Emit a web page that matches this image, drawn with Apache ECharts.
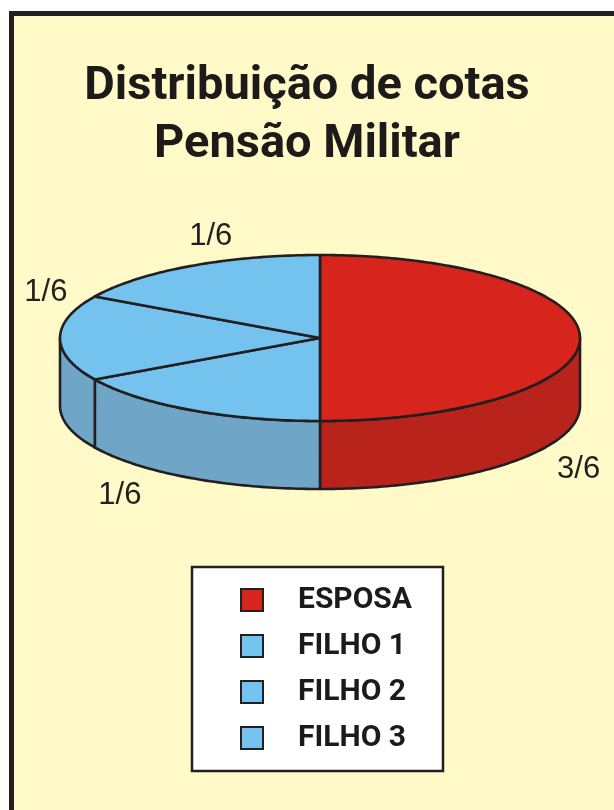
<!DOCTYPE html>
<html>
<head>
<meta charset="utf-8">
<title>Distribuição de cotas - Pensão Militar</title>
<script src="https://cdn.jsdelivr.net/npm/echarts@6/dist/echarts.min.js"></script>
<style>
  html, body { margin: 0; padding: 0; background: #fff; }
  #chart { width: 614px; height: 810px; }
</style>
</head>
<body>
<div id="chart"></div>
<script>
// chart data
const names = ['ESPOSA', 'FILHO 1', 'FILHO 2', 'FILHO 3'];
const values = [3, 1, 1, 1];
const shareLabels = ['3/6', '1/6', '1/6', '1/6'];

// look of the tilted pie
const CX = 320, CY = 338, RX = 260, RY = 83, DEPTH = 68;
const START_ANGLE = 90;
const topColors = ['#d7251d', '#73c3ee', '#73c3ee', '#73c3ee'];
const sideColors = ['#b8231b', '#6fa6c7', '#6fa6c7', '#6fa6c7'];
const labelAngles = [-32, 229, 154, 111];
const INK = '#231f20';

const total = values.reduce((s, v) => s + v, 0);

// angle span of each slice, clockwise from the top
function sliceSpan(i) {
  let before = 0;
  for (let k = 0; k < i; k++) before += values[k];
  const a0 = START_ANGLE - (before / total) * 360;
  const a1 = a0 - (values[i] / total) * 360;
  return [a1, a0];
}

function pt(deg, dy) {
  const r = deg * Math.PI / 180;
  return [CX + RX * Math.cos(r), CY - RY * Math.sin(r) + (dy || 0)];
}

function arc(from, to, dy) {
  const pts = [];
  const n = Math.max(2, Math.ceil(Math.abs(to - from)));
  for (let j = 0; j <= n; j++) pts.push(pt(from + (to - from) * j / n, dy));
  return pts;
}

function renderTop(i) {
  return function () {
    const [lo, hi] = sliceSpan(i);
    const a = labelAngles[i] * Math.PI / 180;
    const front = Math.sin(a) < 0;
    return {
      type: 'group',
      children: [
        {
          type: 'polygon',
          shape: { points: [[CX, CY]].concat(arc(lo, hi)) },
          style: { fill: topColors[i], stroke: INK, lineWidth: 2.6, lineJoin: 'round' }
        },
        {
          type: 'text',
          style: {
            text: shareLabels[i],
            x: CX + (RX + 45) * Math.cos(a),
            y: CY + 4 - (RY + 30) * Math.sin(a) + (front ? DEPTH : 0),
            align: 'center',
            verticalAlign: 'middle',
            font: '31px "Liberation Sans", Arial, sans-serif',
            fill: INK
          }
        }
      ]
    };
  };
}

function renderSide(i) {
  return function () {
    const [lo, hi] = sliceSpan(i);
    const children = [];
    // parts of the rim facing the viewer (lower half of the ellipse)
    [[-180, 0], [180, 360]].forEach(([f0, f1]) => {
      const s = Math.max(lo, f0), e = Math.min(hi, f1);
      if (e - s > 0.01) {
        const pts = arc(s, e).concat(arc(e, s, DEPTH));
        children.push({
          type: 'polygon',
          shape: { points: pts },
          style: { fill: sideColors[i], stroke: INK, lineWidth: 2.6, lineJoin: 'round' }
        });
      }
    });
    return { type: 'group', children: children };
  };
}

const series = [];
names.forEach((name, i) => {
  series.push({
    type: 'custom',
    name: name,
    coordinateSystem: 'none',
    z: 3,
    silent: true,
    itemStyle: { color: topColors[i] },
    data: [values[i]],
    renderItem: renderTop(i)
  });
});
names.forEach((name, i) => {
  series.push({
    type: 'custom',
    name: name,
    coordinateSystem: 'none',
    z: 2,
    silent: true,
    itemStyle: { color: sideColors[i] },
    data: [values[i]],
    renderItem: renderSide(i)
  });
});

const chart = echarts.init(document.getElementById('chart'), null, { renderer: 'canvas' });
chart.setOption({
  backgroundColor: '#ffffff',
  animation: false,
  graphic: [
    {
      type: 'rect',
      z: -10,
      shape: { x: 11.5, y: 13.5, width: 700, height: 900 },
      style: { fill: '#fffac8', stroke: INK, lineWidth: 5 }
    }
  ],
  title: {
    text: 'Distribuição de cotas\nPensão Militar',
    left: 'center',
    top: 53,
    textStyle: {
      fontFamily: 'Roboto, "Liberation Sans", sans-serif',
      fontWeight: 'bold',
      fontSize: 47,
      lineHeight: 58,
      color: '#1d1a1a'
    }
  },
  legend: {
    data: names,
    orient: 'vertical',
    left: 192,
    top: 567,
    icon: 'rect',
    itemWidth: 22,
    itemHeight: 22,
    itemGap: 16,
    padding: [18, 31, 18, 48],
    backgroundColor: '#ffffff',
    borderColor: INK,
    borderWidth: 2.5,
    borderRadius: 0,
    selectedMode: false,
    itemStyle: { borderColor: INK, borderWidth: 2 },
    textStyle: {
      fontFamily: 'Roboto, "Liberation Sans", sans-serif',
      fontWeight: 'bold',
      fontSize: 30,
      color: '#1d1a1a',
      padding: [0, 0, 0, 30]
    }
  },
  series: series
});
</script>
</body>
</html>
